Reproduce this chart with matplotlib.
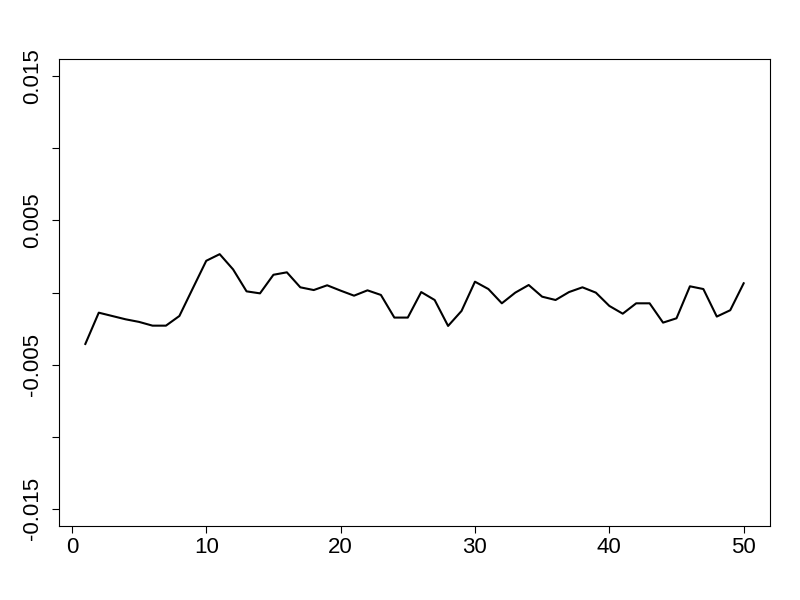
import numpy as np
import matplotlib.pyplot as plt

plt.rcParams['font.family'] = ['Liberation Sans', 'DejaVu Sans']

# series (units of 1e-3)
x = np.arange(1, 51)
y_milli = [-3.57, -1.40, -1.63, -1.86, -2.04, -2.30, -2.30, -1.63, 0.29, 2.20,
           2.66, 1.60, 0.08, -0.06, 1.23, 1.40, 0.36, 0.17, 0.50, 0.13,
           -0.22, 0.15, -0.17, -1.74, -1.74, 0.03, -0.52, -2.32, -1.28, 0.75,
           0.24, -0.75, -0.01, 0.52, -0.29, -0.52, 0.03, 0.36, -0.01, -0.93,
           -1.47, -0.75, -0.75, -2.09, -1.79, 0.43, 0.24, -1.67, -1.23, 0.64]
y = np.array(y_milli) / 1000.0

xticks = [0, 10, 20, 30, 40, 50]
yticks = [-0.015, -0.01, -0.005, 0, 0.005, 0.01, 0.015]
ylabels = ["-0.015", "", "-0.005", "", "0.005", "", "0.015"]

fig = plt.figure(figsize=(8, 6), dpi=100)
ax = fig.add_axes([59/800, 1 - 526/600, (770-59)/800, (526-59)/600])
ax.plot(x, y, color='black', linewidth=1.5)

# R-style 4% padding
ax.set_xlim(1 - 0.04*49, 50 + 0.04*49)
ax.set_ylim(-0.015*1.08, 0.015*1.08)

ax.set_xticks(xticks)
ax.set_xticklabels([str(t) for t in xticks])
ax.set_yticks(yticks)
ax.set_yticklabels(ylabels, rotation=90, va='center')

ax.tick_params(axis='both', direction='out', length=5.2, width=0.8, labelsize=16)
ax.tick_params(axis='x', pad=2.5)
ax.tick_params(axis='y', pad=6)
for s in ax.spines.values():
    s.set_linewidth(0.8)

fig.savefig("out.png", dpi=100)
